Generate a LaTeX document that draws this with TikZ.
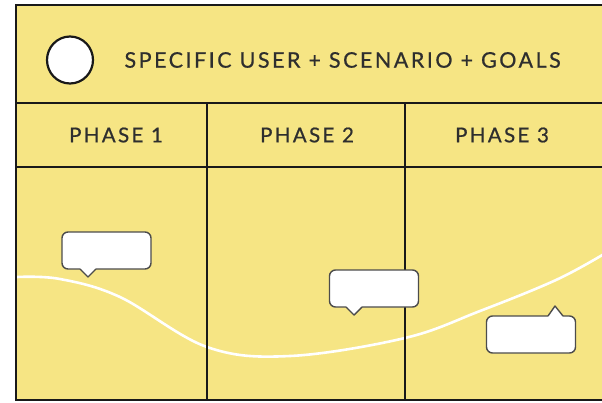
\documentclass[tikz,border=0pt]{standalone}
\usepackage{fontspec}
\usetikzlibrary{shapes.geometric}
\setmainfont{Lato}
\newfontfamily\titlefont{Lato}[LetterSpace=11.6, FakeBold=0.6]
\newfontfamily\phasefont{Lato}[LetterSpace=11.5, FakeBold=0.6]
\begin{document}
\begin{tikzpicture}[x=1pt,y=-1pt,
  frame/.style={draw=black!90, line width=2pt},
  caption/.style={font=\titlefont\fontsize{21.5}{24}\selectfont, text=black!82},
  phaselabel/.style={font=\phasefont\fontsize{20.5}{24}\selectfont, text=black!82},
  bubble/.style={draw=black!70, fill=white, line width=1.4pt, rounded corners=6pt,
    minimum width=89pt, minimum height=37pt, inner sep=0pt},
  tail/.style={draw=black!70, line width=1.4pt, line join=round},
  journey/.style={draw=white, line width=2.6pt, line cap=round}]
\useasboundingbox (0,0) rectangle (602,402);
\definecolor{board}{RGB}{246,229,132}
% board
\fill[white] (0,0) rectangle (602,402);
\fill[board] (16,5) rectangle (604,400);
% journey line
\draw[journey] plot[smooth, tension=0.6] coordinates {
  (17,277) (60,279) (120,297) (207,347) (290,356) (405,338) (480,311) (556,280) (604,254)};
% grid
\draw[frame] (604,5) -- (16,5) -- (16,400) -- (604,400);
\draw[frame] (16,103) -- (604,103);
\draw[frame] (16,167) -- (604,167);
\draw[frame] (207,103) -- (207,400);
\draw[frame] (405,103) -- (405,400);
% persona
\node[draw=black!90, line width=2.2pt, fill=white, ellipse, minimum width=46pt, minimum height=47pt, inner sep=0pt] (persona) at (70,60) {};
\node[caption, anchor=west] (title) at (121,60) {SPECIFIC USER + SCENARIO + GOALS};
\node[phaselabel] (p1) at (116,135) {PHASE 1};
\node[phaselabel] (p2) at (307,135) {PHASE 2};
\node[phaselabel] (p3) at (502,135) {PHASE 3};
% speech bubbles
\node[bubble] (b1) at (106.5,250.5) {};
\node[bubble] (b2) at (374,288.5) {};
\node[bubble] (b3) at (531,334.5) {};
% tails
\fill[white] (80,268) -- (88,277) -- (96,268) -- cycle;
\draw[tail] (80,269) -- (88,277) -- (96,269);
\fill[white] (346,306) -- (354,315) -- (362,306) -- cycle;
\draw[tail] (346,307) -- (354,315) -- (362,307);
\fill[white] (548,317) -- (555,306) -- (563,317) -- cycle;
\draw[tail] (548,316) -- (555,306) -- (563,316);
\end{tikzpicture}
\end{document}
